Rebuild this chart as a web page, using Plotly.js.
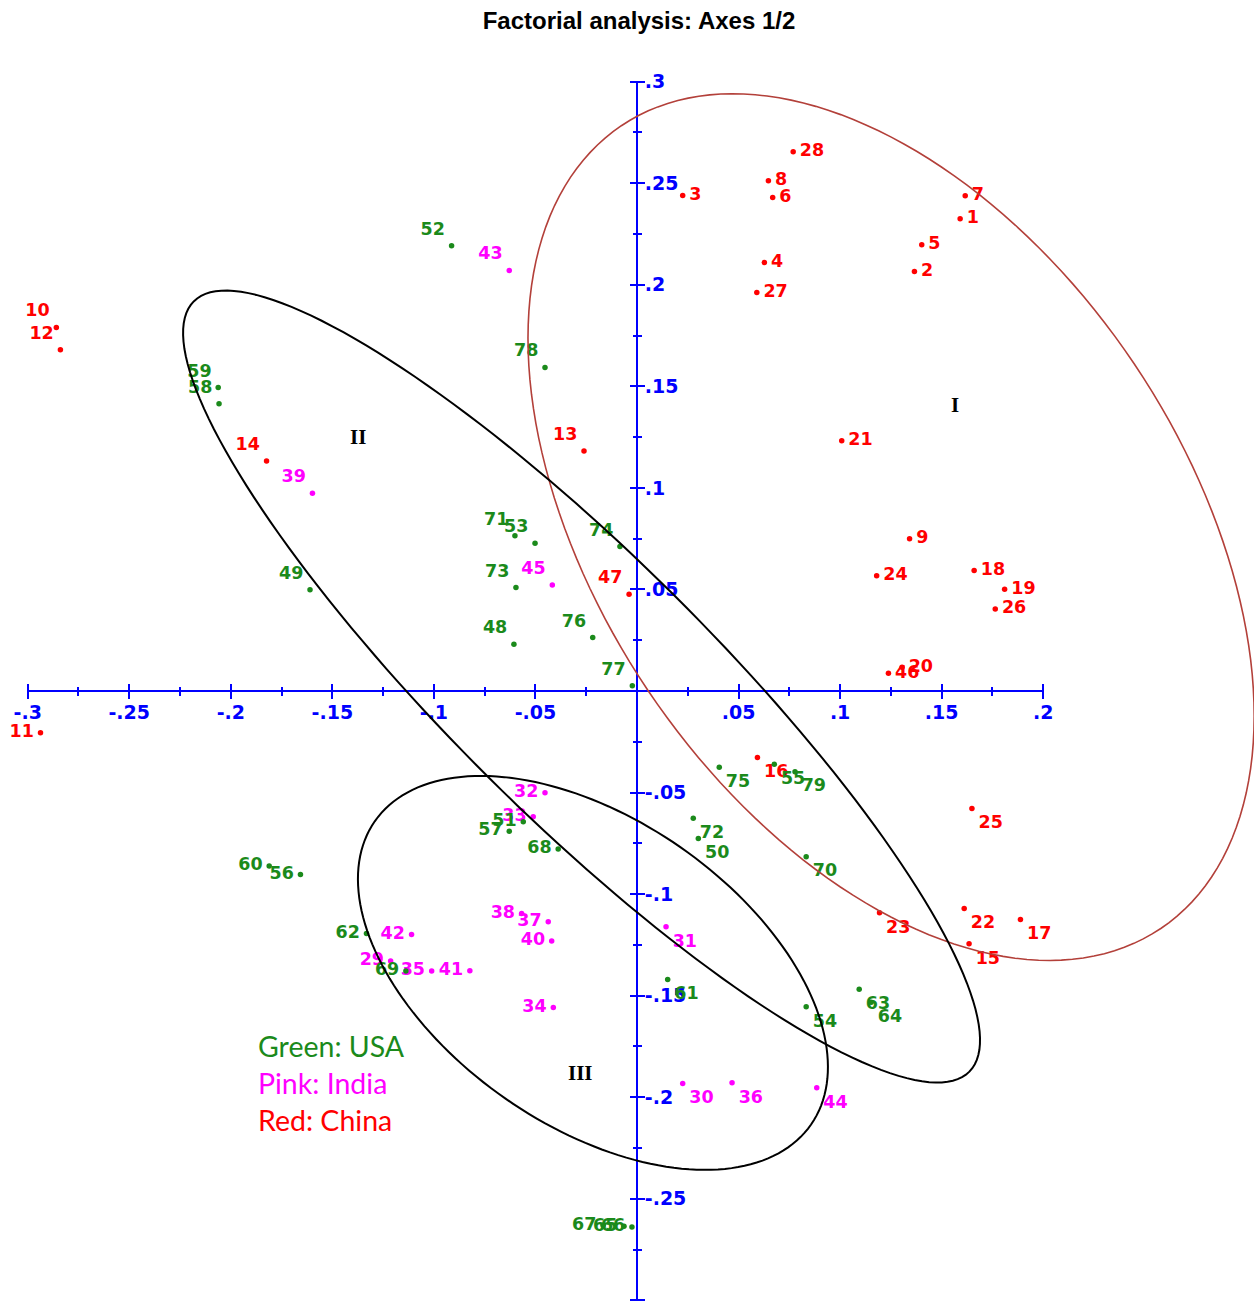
<!DOCTYPE html>
<html>
<head>
<meta charset="utf-8">
<script src="https://cdn.plot.ly/plotly-3.0.1.min.js"></script>
<style>
  html, body { margin: 0; padding: 0; background: #fff; }
  #chart { width: 1254px; height: 1307px; }
</style>
</head>
<body>
<div id="chart"></div>
<script>
// ---- Individuals (coordinates on factorial axes 1 and 2) ----
// China
const chinaIds = ['1','2','3','4','5','6','7','8','9','10','11','12','13','14','15','16','17','18','19','20','21','22','23','24','25','26','27','28','46','47'];
const chinaX = [0.1591, 0.1366, 0.0225, 0.0627, 0.1402, 0.0668, 0.1616, 0.0647, 0.1342, -0.2859, -0.2937, -0.2839, -0.0261, -0.1824, 0.1635, 0.0593, 0.1888, 0.1660, 0.1810, 0.1305, 0.1008, 0.1611, 0.1194, 0.1180, 0.1649, 0.1764, 0.0590, 0.0769, 0.1238, -0.0039];
const chinaY = [0.2325, 0.2065, 0.2440, 0.2110, 0.2197, 0.2430, 0.2438, 0.2512, 0.0749, 0.1790, -0.0205, 0.1680, 0.1182, 0.1133, -0.1245, -0.0327, -0.1125, 0.0593, 0.0501, 0.0117, 0.1232, -0.1071, -0.1092, 0.0568, -0.0578, 0.0404, 0.1962, 0.2655, 0.0087, 0.0476];
const chinaLabelSide = ['R','R','R','R','R','R','R','R','R','TL','L','TL','TL','TL','BR','BR','BR','R','R','R','R','BR','BR','R','BR','R','R','R','R','TL'];

// India
const indiaIds = ['29','30','31','32','33','34','35','36','37','38','39','40','41','42','43','44','45'];
const indiaX = [-0.1213, 0.0225, 0.0143, -0.0453, -0.0511, -0.0412, -0.1011, 0.0468, -0.0437, -0.0568, -0.1598, -0.0420, -0.0823, -0.1110, -0.0629, 0.0885, -0.0417];
const indiaY = [-0.1329, -0.1933, -0.1161, -0.0501, -0.0619, -0.1558, -0.1379, -0.1929, -0.1136, -0.1095, 0.0974, -0.1231, -0.1378, -0.1199, 0.2071, -0.1954, 0.0522];
const indiaLabelSide = ['L','BR','BR','L','L','L','L','BR','L','L','TL','L','L','L','TL','BR','TL'];

// USA
const usaIds = ['48','49','50','51','52','53','54','55','56','57','58','59','60','61','62','63','64','65','66','67','68','69','70','71','72','73','74','75','76','77','78','79'];
const usaX = [-0.0606, -0.1610, 0.0302, -0.0560, -0.0913, -0.0502, 0.0833, 0.0676, -0.1657, -0.0629, -0.2058, -0.2062, -0.1811, 0.0151, -0.1332, 0.1094, 0.1153, -0.0064, -0.0025, -0.0167, -0.0388, -0.1138, 0.0833, -0.0601, 0.0277, -0.0596, -0.0084, 0.0405, -0.0218, -0.0023, -0.0453, 0.0778];
const usaY = [0.0230, 0.0498, -0.0726, -0.0644, 0.2192, 0.0728, -0.1555, -0.0361, -0.0903, -0.0690, 0.1414, 0.1494, -0.0862, -0.1420, -0.1194, -0.1469, -0.1532, -0.2635, -0.2639, -0.2630, -0.0778, -0.1379, -0.0816, 0.0764, -0.0627, 0.0509, 0.0711, -0.0376, 0.0263, 0.0026, 0.1593, -0.0397];
const usaLabelSide = ['TL','TL','BR','L','TL','TL','BR','BR','L','L','TL','TL','L','BR','L','BR','BR','L','L','L','L','L','BR','TL','BR','TL','TL','BR','TL','TL','TL','BR'];

// ---- Groups (ellipses) ----
const groupNames = ['I', 'II', 'III'];
const groupCenterX = [0.1251, -0.0273, -0.0217];
const groupCenterY = [0.0807, 0.0022, -0.1388];
const groupSemiMajor = [0.2381, 0.2691, 0.1308];
const groupSemiMinor = [0.1442, 0.0640, 0.0754];
const groupAngleDeg = [-56.1, -44.8, -34.8];
const groupLabelX = [0.1567, -0.1374, -0.0276];
const groupLabelY = [0.1409, 0.1251, -0.1882];

// ---- Axes ticks ----
const xTickVals = [-0.3, -0.25, -0.2, -0.15, -0.1, -0.05, 0.05, 0.1, 0.15, 0.2];
const xTickText = ['-.3', '-.25', '-.2', '-.15', '-.1', '-.05', '.05', '.1', '.15', '.2'];
const yTickVals = [-0.3, -0.25, -0.2, -0.15, -0.1, -0.05, 0.05, 0.1, 0.15, 0.2, 0.25, 0.3];
const yTickText = ['-.3', '-.25', '-.2', '-.15', '-.1', '-.05', '.05', '.1', '.15', '.2', '.25', '.3'];

// ---- Legend text ----
const legendLabels = ['Green: USA', 'Pink: India', 'Red: China'];

// ---- Styling ----
const GREEN = '#1b8a1b', PINK = '#ff00ff', RED = '#ff0000', BLUE = '#0000ff';
const W = 1254, H = 1307;
const PX_PER_UNIT = 2031;
const ORIGIN = [637, 691];
const xFull = [-ORIGIN[0] / PX_PER_UNIT, (W - ORIGIN[0]) / PX_PER_UNIT];
const yFull = [-(H - ORIGIN[1]) / PX_PER_UNIT, ORIGIN[1] / PX_PER_UNIT];
const xAxisSpan = [-0.3005, 0.2005];
const yAxisSpan = [-0.3005, 0.3005];
const frac = (v, r) => (v - r[0]) / (r[1] - r[0]);

const sideToPos = { R: 'middle right', L: 'middle left', TL: 'top left', BR: 'bottom right' };
const LABEL_FONT = 'DejaVu Sans, Verdana, sans-serif';

const traces = [];
// empty traces so that every axis pair exists as a subplot
traces.push({ type: 'scatter', x: [], y: [], xaxis: 'x', yaxis: 'y', showlegend: false, hoverinfo: 'skip' });
traces.push({ type: 'scatter', x: [], y: [], xaxis: 'x3', yaxis: 'y3', showlegend: false, hoverinfo: 'skip' });

function addCountry(ids, xs, ys, sides, color) {
  // labels, spaced from the dot by a transparent larger marker
  traces.push({
    type: 'scatter', mode: 'markers+text', x: xs, y: ys, text: ids,
    textposition: sides.map(s => sideToPos[s]),
    xaxis: 'x2', yaxis: 'y2', cliponaxis: false,
    marker: { size: 9, color: 'rgba(0,0,0,0)' },
    textfont: { family: LABEL_FONT, size: 17.5, weight: 'bold', color: color },
    hoverinfo: 'skip', showlegend: false
  });
  // the dots
  traces.push({
    type: 'scatter', mode: 'markers', x: xs, y: ys, text: ids,
    xaxis: 'x2', yaxis: 'y2', cliponaxis: false,
    marker: { size: 5.5, color: color },
    hovertemplate: '%{text}: (%{x}, %{y})<extra></extra>', showlegend: false
  });
}
addCountry(chinaIds, chinaX, chinaY, chinaLabelSide, RED);
addCountry(indiaIds, indiaX, indiaY, indiaLabelSide, PINK);
addCountry(usaIds, usaX, usaY, usaLabelSide, GREEN);

// ellipse outlines as SVG paths in data coordinates
function ellipsePath(cx, cy, a, b, angDeg) {
  const t = angDeg * Math.PI / 180, ct = Math.cos(t), st = Math.sin(t);
  const n = 180;
  let p = '';
  for (let i = 0; i <= n; i++) {
    const f = 2 * Math.PI * i / n;
    const u = a * Math.cos(f), v = b * Math.sin(f);
    const x = cx + u * ct - v * st, y = cy + u * st + v * ct;
    p += (i === 0 ? 'M' : 'L') + x.toFixed(5) + ',' + y.toFixed(5);
  }
  return p + 'Z';
}
const groupColors = ['#b3403a', '#000000', '#000000'];
const shapes = groupNames.map((g, i) => ({
  type: 'path', xref: 'x', yref: 'y', layer: 'above',
  path: ellipsePath(groupCenterX[i], groupCenterY[i], groupSemiMajor[i], groupSemiMinor[i], groupAngleDeg[i]),
  line: { color: groupColors[i], width: i === 0 ? 1.6 : 2 }
}));

const annotations = groupNames.map((g, i) => ({
  text: g, x: groupLabelX[i], y: groupLabelY[i], xref: 'x', yref: 'y', showarrow: false,
  font: { family: 'Liberation Serif, Times New Roman, serif', size: 21, weight: 'bold', color: '#000' }
}));
const legendColors = [GREEN, PINK, RED];
legendLabels.forEach((t, i) => {
  annotations.push({
    text: t, xref: 'paper', yref: 'paper', x: 256 / W, y: 1 - (1046 + i * 37) / H,
    xanchor: 'left', yanchor: 'middle', showarrow: false,
    font: { family: 'Lato, sans-serif', size: 28.5, color: legendColors[i] }
  });
});

const tickFont = { family: LABEL_FONT, size: 19, weight: 'bold', color: BLUE };
const hidden = { showline: false, showgrid: false, zeroline: false, showticklabels: false, ticks: '' };
const xPos = frac(0, yFull), yPos = frac(0, xFull);
const xDom = [frac(xAxisSpan[0], xFull), frac(xAxisSpan[1], xFull)];
const yDom = [frac(yAxisSpan[0], yFull), frac(yAxisSpan[1], yFull)];

const minorOut = { tickmode: 'linear', tick0: 0, dtick: 0.025, ticks: 'outside', ticklen: 4, tickwidth: 2, tickcolor: BLUE };
const minorIn = Object.assign({}, minorOut, { ticks: 'inside' });

const layout = {
  width: W, height: H,
  margin: { l: 0, r: 0, t: 0, b: 0, pad: 0 },
  paper_bgcolor: '#ffffff', plot_bgcolor: 'rgba(0,0,0,0)',
  showlegend: false,
  title: {
    text: 'Factorial analysis: Axes 1/2',
    font: { family: 'Liberation Sans, Arial, sans-serif', size: 24, weight: 'bold', color: '#000' },
    x: 639 / W, xanchor: 'center', xref: 'container',
    y: 1 - 21 / H, yanchor: 'middle', yref: 'container'
  },
  xaxis: Object.assign({ range: xFull, domain: [0, 1], fixedrange: true }, hidden),
  yaxis: Object.assign({ range: yFull, domain: [0, 1], fixedrange: true }, hidden),
  xaxis2: {
    range: xAxisSpan, domain: xDom, anchor: 'free', position: xPos, side: 'bottom',
    showline: true, linecolor: BLUE, linewidth: 2, showgrid: false, zeroline: false,
    tickmode: 'array', tickvals: xTickVals, ticktext: xTickText,
    ticks: 'outside', ticklen: 7, tickwidth: 2, tickcolor: BLUE, tickfont: tickFont,
    ticklabelstandoff: -3,
    minor: minorOut, layer: 'below traces', fixedrange: true
  },
  yaxis2: {
    range: yAxisSpan, domain: yDom, anchor: 'free', position: yPos, side: 'right',
    showline: true, linecolor: BLUE, linewidth: 2, showgrid: false, zeroline: false,
    tickmode: 'array', tickvals: yTickVals, ticktext: yTickText,
    ticks: 'outside', ticklen: 7, tickwidth: 2, tickcolor: BLUE, tickfont: tickFont,
    ticklabelstandoff: -4,
    minor: minorOut, layer: 'below traces', fixedrange: true
  },
  xaxis3: {
    range: xAxisSpan, overlaying: 'x2', anchor: 'free', position: xPos, side: 'bottom',
    showline: false, showgrid: false, zeroline: false, showticklabels: false,
    tickmode: 'array', tickvals: xTickVals,
    ticks: 'inside', ticklen: 7, tickwidth: 2, tickcolor: BLUE,
    minor: minorIn, layer: 'below traces', fixedrange: true
  },
  yaxis3: {
    range: yAxisSpan, overlaying: 'y2', anchor: 'free', position: yPos, side: 'right',
    showline: false, showgrid: false, zeroline: false, showticklabels: false,
    tickmode: 'array', tickvals: yTickVals,
    ticks: 'inside', ticklen: 7, tickwidth: 2, tickcolor: BLUE,
    minor: minorIn, layer: 'below traces', fixedrange: true
  },
  shapes: shapes,
  annotations: annotations
};

Plotly.newPlot('chart', traces, layout, { displayModeBar: false, staticPlot: false });
</script>
</body>
</html>
